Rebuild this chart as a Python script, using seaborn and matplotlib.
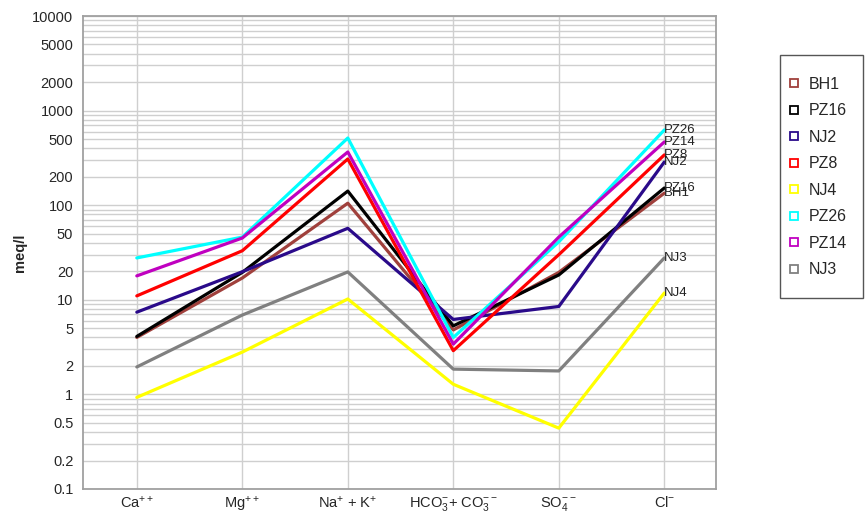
import numpy as np
import pandas as pd
import matplotlib
matplotlib.use("Agg")
import matplotlib.pyplot as plt
from matplotlib.ticker import FixedLocator, NullFormatter, FixedFormatter
from matplotlib.lines import Line2D
from matplotlib.patches import Rectangle
import seaborn as sns

# Ion categories on the x axis
ions = [r"Ca$^{++}$", r"Mg$^{++}$", r"Na$^{+}$ + K$^{+}$",
        r"HCO$_3^{-}$+ CO$_3^{--}$", r"SO$_4^{--}$", r"Cl$^{-}$"]

# Concentrations (meq/l) per sample, in ion order
BH1 = [4.0, 17.0, 105, 4.8, 19.5, 134]
PZ16 = [4.1, 19.5, 141, 5.3, 18.3, 152]
NJ2 = [7.4, 19.8, 57, 6.2, 8.5, 286]
PZ8 = [11.0, 33.0, 308, 2.9, 30.0, 340]
NJ4 = [0.93, 2.8, 10.2, 1.28, 0.44, 11.8]
PZ26 = [27.7, 46.0, 513, 4.0, 41.0, 624]
PZ14 = [17.9, 45.0, 365, 3.4, 46.0, 466]
NJ3 = [1.95, 6.9, 19.7, 1.85, 1.77, 27.7]

samples = ["BH1", "PZ16", "NJ2", "PZ8", "NJ4", "PZ26", "PZ14", "NJ3"]
values = [BH1, PZ16, NJ2, PZ8, NJ4, PZ26, PZ14, NJ3]
colors = ["#A0403C", "#000000", "#2A0A8A", "#FF0000", "#FFFF00",
          "#00FFFF", "#C000C0", "#808080"]
palette = dict(zip(samples, colors))

# Tick labels on the y axis
ytick_vals = [0.1, 0.2, 0.5, 1, 2, 5, 10, 20, 50, 100, 200, 500,
              1000, 2000, 5000, 10000]
ytick_labels = ["0.1", "0.2", "0.5", "1", "2", "5", "10", "20", "50", "100",
                "200", "500", "1000", "2000", "5000", "10000"]

rows = []
for name, vals in zip(samples, values):
    for i, v in enumerate(vals):
        rows.append({"sample": name, "pos": i, "meq": v})
df = pd.DataFrame(rows)

sns.set_style("white")
plt.rcParams["font.family"] = ["Liberation Sans", "DejaVu Sans"]
plt.rcParams["mathtext.default"] = "regular"

W, H = 865, 516
fig = plt.figure(figsize=(W / 100, H / 100), dpi=100)
ax = fig.add_axes([83 / W, 1 - 489 / H, (716 - 83) / W, (489 - 16) / H])

sns.lineplot(data=df, x="pos", y="meq", hue="sample", hue_order=samples,
             palette=palette, estimator=None, linewidth=2.3, ax=ax,
             legend=False, zorder=3)

ax.set_yscale("log")
ax.set_ylim(0.1, 10000)
ax.set_xlim(-0.51, 5.49)

# log grid: labelled 1-2-5 ticks plus every remaining multiple
minor = []
for dec in [0.1, 1, 10, 100, 1000]:
    for m in range(1, 10):
        v = dec * m
        if not any(np.isclose(v, t) for t in ytick_vals):
            minor.append(v)
ax.yaxis.set_major_locator(FixedLocator(ytick_vals))
ax.yaxis.set_major_formatter(FixedFormatter(ytick_labels))
ax.yaxis.set_minor_locator(FixedLocator(minor))
ax.yaxis.set_minor_formatter(NullFormatter())
ax.grid(True, which="both", axis="y", color="#cfcfcf", linewidth=1.0, zorder=0)
ax.grid(True, which="major", axis="x", color="#cfcfcf", linewidth=1.0, zorder=0)
ax.set_axisbelow(True)

ax.set_xticks(range(len(ions)))
ax.set_xticklabels(ions, fontsize=10.5)
ax.tick_params(axis="x", length=0, pad=4)
ax.tick_params(axis="y", which="both", direction="in", length=10, width=1.0,
               color="#8c8c8c", labelsize=10.5, pad=7)
for s in ax.spines.values():
    s.set_color("#a0a0a0")
    s.set_linewidth(1.3)

ax.set_xlabel("")
ax.set_ylabel("meq/l", fontsize=10.5, fontweight="bold")
ax.yaxis.set_label_coords((27 - 83) / (716 - 83), 0.5)

# sample names at the Cl end of each line
for name, vals in zip(samples, values):
    ax.text(len(ions) - 1, vals[-1], name, fontsize=9.5, color="#222222",
            ha="left", va="center", zorder=4)

# legend box beside the plot
fig.patches.append(Rectangle((780 / W, 1 - 298 / H), 83 / W, 243 / H,
                             transform=fig.transFigure, facecolor="white",
                             edgecolor="#555555", linewidth=1.0))
handles = [Line2D([], [], linestyle="none", marker="s", markersize=6,
                  markerfacecolor="none", markeredgecolor=c, markeredgewidth=1.3)
           for c in colors]
leg = fig.legend(handles, samples, loc="center left",
                 bbox_to_anchor=(786 / W, 1 - 177 / H), fontsize=11.5,
                 frameon=False, borderpad=0, labelspacing=0.72,
                 handletextpad=0.45, handlelength=1.0, borderaxespad=0)

fig.savefig("out.png", dpi=100)
